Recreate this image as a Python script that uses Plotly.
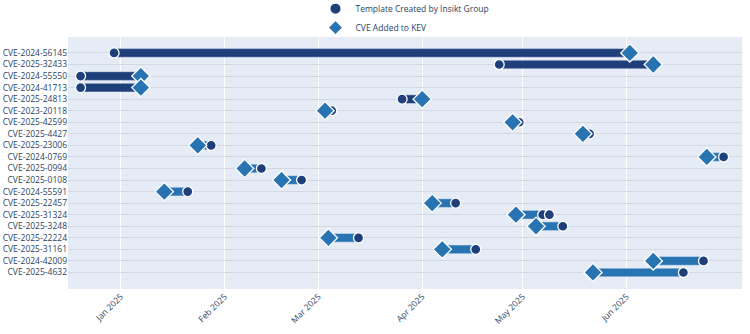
import pandas as pd
import plotly.graph_objects as go

cves = [
    "CVE-2024-56145", "CVE-2025-32433", "CVE-2024-55550", "CVE-2024-41713",
    "CVE-2025-24813", "CVE-2023-20118", "CVE-2025-42599", "CVE-2025-4427",
    "CVE-2025-23006", "CVE-2024-0769", "CVE-2025-0994", "CVE-2025-0108",
    "CVE-2024-55591", "CVE-2025-22457", "CVE-2025-31324", "CVE-2025-3248",
    "CVE-2025-22224", "CVE-2025-31161", "CVE-2024-42009", "CVE-2025-4632",
]
template_dates = [
    "2024-12-30", "2025-04-24", "2024-12-20", "2024-12-20",
    "2025-03-26", "2025-03-05", "2025-04-30", "2025-05-21",
    "2025-01-28", "2025-06-30", "2025-02-12", "2025-02-24",
    "2025-01-21", "2025-04-11", "2025-05-07", "2025-05-13",
    "2025-03-13", "2025-04-17", "2025-06-24", "2025-06-18",
]
kev_dates = [
    "2025-06-02", "2025-06-09", "2025-01-07", "2025-01-07",
    "2025-04-01", "2025-03-03", "2025-04-28", "2025-05-19",
    "2025-01-24", "2025-06-25", "2025-02-07", "2025-02-18",
    "2025-01-14", "2025-04-04", "2025-04-29", "2025-05-05",
    "2025-03-04", "2025-04-07", "2025-06-09", "2025-05-22",
]
extra_template_cves = ["CVE-2025-31324"]
extra_template_dates = ["2025-05-09"]
tick_months = ["2025-01-01", "2025-02-01", "2025-03-01",
               "2025-04-01", "2025-05-01", "2025-06-01"]
tick_labels = ["Jan 2025", "Feb 2025", "Mar 2025", "Apr 2025", "May 2025", "Jun 2025"]

DARK = "#1f3f7b"
LIGHT = "#2874b2"

df = pd.DataFrame({"cve": cves,
                   "tmpl": pd.to_datetime(template_dates),
                   "kev": pd.to_datetime(kev_dates)})
df["start"] = df[["tmpl", "kev"]].min(axis=1)
df["end"] = df[["tmpl", "kev"]].max(axis=1)
df["dur"] = (df["end"] - df["start"]).dt.total_seconds() * 1000
df["tmpl_first"] = df["tmpl"] <= df["kev"]

fig = go.Figure()
for first, color in [(True, DARK), (False, LIGHT)]:
    sub = df[df["tmpl_first"] == first]
    fig.add_trace(go.Bar(
        y=sub["cve"], x=sub["dur"], base=sub["start"].dt.strftime("%Y-%m-%d"),
        orientation="h", width=0.75, showlegend=False, hoverinfo="skip",
        marker=dict(color=color, line=dict(color="#E5ECF6", width=0.5)),
    ))

tm_y = cves + extra_template_cves
tm_x = template_dates + extra_template_dates
fig.add_trace(go.Scatter(
    x=tm_x, y=tm_y, mode="markers", name="Template Created by Insikt Group",
    marker=dict(symbol="circle", size=10, color=DARK, line=dict(color="white", width=1.3)),
))
fig.add_trace(go.Scatter(
    x=kev_dates, y=cves, mode="markers", name="CVE Added to KEV",
    marker=dict(symbol="diamond", size=14, color=LIGHT, line=dict(color="white", width=1.3)),
))

n = len(cves)
fig.update_layout(
    width=750, height=334,
    margin=dict(l=68, r=8, t=37, b=45, autoexpand=False),
    font=dict(family="Open Sans", size=8.5, color="#2a3f5f"),
    barmode="overlay",
    legend=dict(x=0.5, xanchor="center", y=1.17, yanchor="top",
                font=dict(size=8.5), bgcolor="rgba(0,0,0,0)",
                itemsizing="constant"),
    xaxis=dict(type="date", range=["2024-12-16 06:00", "2025-07-05 12:00"],
               tickmode="array", tickvals=tick_months, ticktext=tick_labels,
               tickangle=-45, gridcolor="white", showline=False, zeroline=False),
    yaxis=dict(type="category", categoryorder="array", categoryarray=cves,
               range=[n - 1 + 1.43, -1.38], gridcolor="#d3d8e2", zeroline=False,
               automargin=False),
)
fig.write_html("out.html")
